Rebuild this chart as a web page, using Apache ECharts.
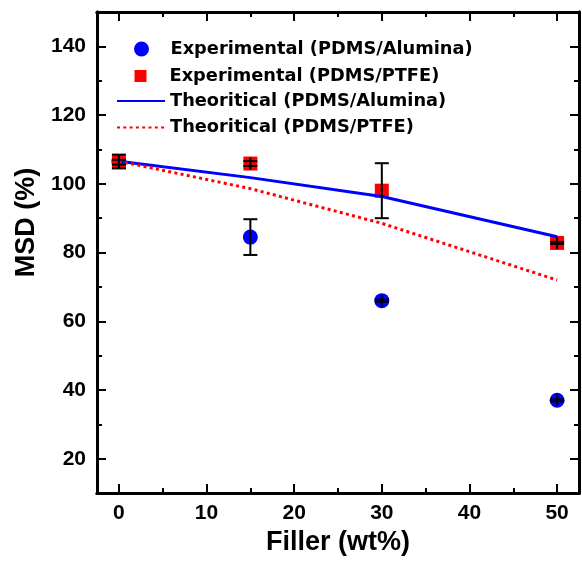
<!DOCTYPE html>
<html>
<head>
<meta charset="utf-8">
<title>MSD vs Filler</title>
<script src="https://cdn.jsdelivr.net/npm/echarts@6/dist/echarts.min.js"></script>
<style>
  html, body { margin: 0; padding: 0; background: #fff; }
  #main { width: 582px; height: 561px; }
</style>
</head>
<body>
<div id="main"></div>
<script type="text/javascript">
// filler content (wt%)
var filler = [0, 15, 30, 50];

// experimental MSD (%) and error
var expAlumina = [106.5, 84.5, 66.0, 37.0];
var errAlumina = [2.0, 5.2, 0.3, 0.3];
var expPTFE = [106.3, 105.9, 98.0, 82.8];
var errPTFE = [0.7, 0.7, 8.0, 0.3];

// theoretical MSD (%)
var theoAlumina = [106.6, 101.8, 96.3, 84.6];
var theoPTFE = [106.6, 98.6, 88.5, 72.0];

// ticks
var xMajor = [0, 10, 20, 30, 40, 50];
var xMinor = [5, 15, 25, 35, 45];
var yMajor = [20, 40, 60, 80, 100, 120, 140];
var yMinor = [30, 50, 70, 90, 110, 130, 150];

var names = [
  'Experimental (PDMS/Alumina)',
  'Experimental (PDMS/PTFE)',
  'Theoritical (PDMS/Alumina)',
  'Theoritical (PDMS/PTFE)'
];

function pairs(ys) {
  return filler.map(function (x, i) { return [x, ys[i]]; });
}
function errRows(ys, es) {
  return filler.map(function (x, i) { return [x, ys[i] - es[i], ys[i] + es[i], ys[i]]; });
}

function errRender(params, api) {
  var x = api.value(0);
  var pLo = api.coord([x, api.value(1)]);
  var pHi = api.coord([x, api.value(2)]);
  var pMid = api.coord([x, api.value(3)]);
  var top = Math.min(pHi[1], pMid[1] - 6);
  var bot = Math.max(pLo[1], pMid[1] + 6);
  var hw = 7;
  var st = { stroke: '#000', lineWidth: 2 };
  return {
    type: 'group',
    children: [
      { type: 'line', shape: { x1: pMid[0], y1: top, x2: pMid[0], y2: bot }, style: st },
      { type: 'line', shape: { x1: pHi[0] - hw, y1: pHi[1], x2: pHi[0] + hw, y2: pHi[1] }, style: st },
      { type: 'line', shape: { x1: pLo[0] - hw, y1: pLo[1], x2: pLo[0] + hw, y2: pLo[1] }, style: st }
    ]
  };
}

var labelFont = { color: '#000', fontFamily: 'Liberation Sans', fontWeight: 'bold', fontSize: 21 };
var nameFont = { color: '#000', fontFamily: 'Liberation Sans', fontWeight: 'bold', fontSize: 27 };
var legendFont = { color: '#000', fontFamily: 'DejaVu Sans', fontWeight: 'bold', fontSize: 17.8 };
var frame = { show: true, onZero: false, lineStyle: { color: '#000', width: 3 } };

function xAx(pos, ticks, len, withLabel) {
  return {
    type: 'value', position: pos, min: -2.5, max: 52.5,
    splitLine: { show: false },
    axisLine: frame,
    axisTick: { show: true, inside: true, length: len, customValues: ticks, lineStyle: { color: '#000', width: 2 } },
    axisLabel: withLabel ? Object.assign({ margin: 10, customValues: ticks }, labelFont) : { show: false },
    name: withLabel ? 'Filler (wt%)' : '',
    nameLocation: 'middle',
    nameGap: 35,
    nameTextStyle: nameFont
  };
}
function yAx(pos, ticks, len, withLabel) {
  return {
    type: 'value', position: pos, min: 10, max: 150,
    splitLine: { show: false },
    axisLine: frame,
    axisTick: { show: true, inside: true, length: len, customValues: ticks, lineStyle: { color: '#000', width: 2 } },
    axisLabel: withLabel ? Object.assign({ margin: 11, customValues: ticks }, labelFont) : { show: false },
    name: withLabel ? 'MSD (%)' : '',
    nameLocation: 'middle',
    nameGap: 51,
    nameTextStyle: Object.assign({ padding: [0, 0, 0, 60] }, nameFont)
  };
}

var myChart = echarts.init(document.getElementById('main'));
var option = {
  backgroundColor: '#fff',
  animation: false,
  grid: { left: 97, right: 3, top: 12, bottom: 63 },
  xAxis: [
    xAx('bottom', xMajor, 9, true),
    xAx('bottom', xMinor, 5, false),
    xAx('top', xMajor, 9, false),
    xAx('top', xMinor, 5, false)
  ],
  yAxis: [
    yAx('left', yMajor, 9, true),
    yAx('left', yMinor, 5, false),
    yAx('right', yMajor, 9, false),
    yAx('right', yMinor, 5, false)
  ],
  legend: [
    {
      data: [names[0]], orient: 'vertical', left: 129, top: 35,
      itemWidth: 48, itemHeight: 15, textStyle: legendFont
    },
    {
      data: [{ name: names[1], icon: 'rect' }], orient: 'vertical', left: 129.5, top: 62,
      itemWidth: 12, itemHeight: 12,
      textStyle: Object.assign({ padding: [0, 0, 0, 18] }, legendFont)
    },
    {
      data: [names[2], names[3]], orient: 'vertical', left: 111, top: 87,
      itemWidth: 48, itemHeight: 15, itemGap: 8.5, textStyle: legendFont,
      itemStyle: { color: 'rgba(0,0,0,0)', borderWidth: 0, opacity: 0 }
    }
  ],
  series: [
    {
      name: names[2], type: 'line', data: pairs(theoAlumina),
      symbol: 'none', color: '#0000ff',
      lineStyle: { color: '#0000ff', width: 3 }
    },
    {
      name: names[3], type: 'line', data: pairs(theoPTFE),
      symbol: 'none', color: '#ff0000',
      lineStyle: { color: '#ff0000', width: 3, type: [3, 3.3] }
    },
    {
      name: names[0], type: 'scatter', data: pairs(expAlumina),
      symbol: 'circle', symbolSize: 15,
      itemStyle: { color: '#0000ff', opacity: 1 }
    },
    {
      name: names[1], type: 'scatter', data: pairs(expPTFE),
      symbol: 'rect', symbolSize: 14,
      itemStyle: { color: '#ff0000', opacity: 1 }
    },
    {
      name: 'errAlumina', type: 'custom', renderItem: errRender,
      data: errRows(expAlumina, errAlumina), encode: { x: 0, y: [1, 2] }, z: 5
    },
    {
      name: 'errPTFE', type: 'custom', renderItem: errRender,
      data: errRows(expPTFE, errPTFE), encode: { x: 0, y: [1, 2] }, z: 5
    }
  ]
};
myChart.setOption(option);
</script>
</body>
</html>
